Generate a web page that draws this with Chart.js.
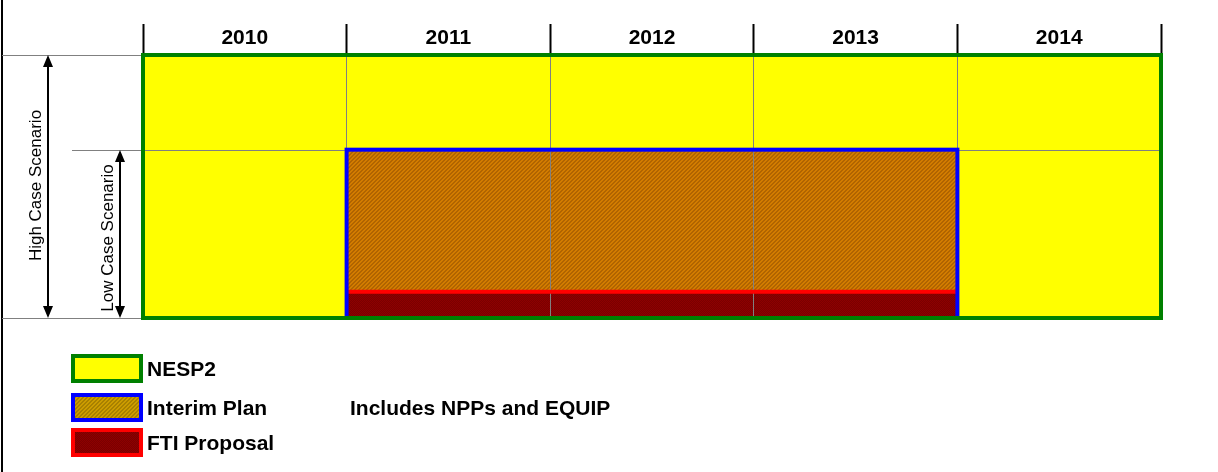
<!DOCTYPE html>
<html>
<head>
<meta charset="utf-8">
<script src="https://cdn.jsdelivr.net/npm/chart.js@4.4.0/dist/chart.umd.min.js"></script>
<style>
  body { margin: 0; background: #fff; }
  #caixa { width: 1218px; height: 472px; }
</style>
</head>
<body>
<div id="caixa"><canvas id="grafico"></canvas></div>
<script>
const anos = ['2010', '2011', '2012', '2013', '2014']
const nesp2 = [100, 100, 100, 100, 100]
const interimPlan = [null, 64, 64, 64, null]
const ftiProposal = [null, 10, 10, 10, null]
const highCase = 100
const lowCase = 64
const legendas = ['NESP2', 'Interim Plan', 'FTI Proposal']
const notaInterim = 'Includes NPPs and EQUIP'

const fonte = '"Liberation Sans", Arial, sans-serif'
const ctxGrafico = document.getElementById('grafico').getContext('2d')

// small 4x4 tiles for the hatched fills
function hachura(fundo, risco, xadrez) {
    const tile = document.createElement('canvas')
    tile.width = 4
    tile.height = 4
    const g = tile.getContext('2d')
    g.fillStyle = fundo
    g.fillRect(0, 0, 4, 4)
    g.fillStyle = risco
    for (let i = 0; i < 4; i++) {
        if (xadrez) {
            if (i % 2 == 0) {
                g.fillRect(i, 0, 1, 1)
                g.fillRect(i, 2, 1, 1)
            } else {
                g.fillRect(i, 1, 1, 1)
                g.fillRect(i, 3, 1, 1)
            }
        } else {
            g.fillRect(i, (3 - i) % 4, 1, 1)
            g.fillRect(i, (4 - i) % 4, 1, 1)
        }
    }
    return ctxGrafico.createPattern(tile, 'repeat')
}

const corInterim = hachura('#d27c00', '#b06400', false)
const corFti = hachura('#7a0000', '#8e0000', true)
const corInterimLegenda = hachura('#cc9c00', '#a88000', false)
const corFtiLegenda = hachura('#7a0000', '#8e0000', true)

// outlines, arrows, side labels and the legend are drawn here
const extras = {
    id: 'extras',
    afterDraw(chart) {
        const ctx = chart.ctx
        const area = chart.chartArea
        const y = chart.scales.y
        const yAlto = Math.round(y.getPixelForValue(highCase))
        const yBaixo = Math.round(y.getPixelForValue(lowCase))
        const yBase = Math.round(y.getPixelForValue(0))

        ctx.save()

        // frame edge on the left
        ctx.fillStyle = '#000'
        ctx.fillRect(1, 0, 2, chart.height)

        // scenario levels
        ctx.strokeStyle = '#808080'
        ctx.lineWidth = 1
        ctx.beginPath()
        ctx.moveTo(2, yAlto + 0.5)
        ctx.lineTo(area.left, yAlto + 0.5)
        ctx.moveTo(72, yBaixo + 0.5)
        ctx.lineTo(area.right, yBaixo + 0.5)
        ctx.moveTo(2, yBase + 0.5)
        ctx.lineTo(area.left, yBase + 0.5)
        ctx.stroke()

        // outlines round each block
        function limites(indice) {
            const valores = chart.data.datasets[indice].data
            const barras = chart.getDatasetMeta(indice).data.filter((b, i) => valores[i] != null)
            const primeira = barras[0]
            const ultima = barras[barras.length - 1]
            return {
                esq: primeira.x - primeira.width / 2,
                dir: ultima.x + ultima.width / 2,
                topo: primeira.y,
                base: primeira.base
            }
        }
        const bInterim = limites(1)
        const bFti = limites(0)
        const bNesp = limites(2)

        ctx.lineWidth = 4
        ctx.strokeStyle = '#ff0000'
        ctx.beginPath()
        ctx.moveTo(bFti.esq, bFti.topo)
        ctx.lineTo(bFti.dir, bFti.topo)
        ctx.stroke()

        ctx.strokeStyle = '#0000ff'
        ctx.strokeRect(bInterim.esq, bInterim.topo, bInterim.dir - bInterim.esq, bInterim.base - bInterim.topo)

        ctx.strokeStyle = '#008000'
        ctx.strokeRect(bNesp.esq, bNesp.topo, bNesp.dir - bNesp.esq, bNesp.base - bNesp.topo)

        // double-headed arrows
        function seta(x, y1, y2) {
            ctx.strokeStyle = '#000'
            ctx.fillStyle = '#000'
            ctx.lineWidth = 2
            ctx.beginPath()
            ctx.moveTo(x, y1 + 10)
            ctx.lineTo(x, y2 - 10)
            ctx.stroke()
            ctx.beginPath()
            ctx.moveTo(x, y1)
            ctx.lineTo(x - 5, y1 + 12)
            ctx.lineTo(x + 5, y1 + 12)
            ctx.closePath()
            ctx.moveTo(x, y2)
            ctx.lineTo(x - 5, y2 - 12)
            ctx.lineTo(x + 5, y2 - 12)
            ctx.closePath()
            ctx.fill()
        }
        seta(48, yAlto, yBase)
        seta(120, yBaixo, yBase)

        function textoVertical(texto, x, yMeio) {
            ctx.save()
            ctx.translate(x, yMeio)
            ctx.rotate(-Math.PI / 2)
            ctx.fillStyle = '#000'
            ctx.font = '17px ' + fonte
            ctx.textAlign = 'center'
            ctx.textBaseline = 'middle'
            ctx.fillText(texto, 0, 0)
            ctx.restore()
        }
        textoVertical('High Case Scenario', 36, (yAlto + yBase) / 2 - 1)
        textoVertical('Low Case Scenario', 108, (yBaixo + yBase) / 2 + 4)

        // legend
        const itens = [
            { texto: legendas[0], fundo: '#ffff00', borda: '#008000', topo: 354 },
            { texto: legendas[1], fundo: corInterimLegenda, borda: '#0000ff', topo: 393 },
            { texto: legendas[2], fundo: corFtiLegenda, borda: '#ff0000', topo: 428 }
        ]
        ctx.font = 'bold 21px ' + fonte
        ctx.textBaseline = 'middle'
        ctx.textAlign = 'left'
        for (let i = 0; i < itens.length; i++) {
            const item = itens[i]
            ctx.fillStyle = item.fundo
            ctx.fillRect(71, item.topo, 72, 29)
            ctx.strokeStyle = item.borda
            ctx.lineWidth = 4
            ctx.strokeRect(73, item.topo + 2, 68, 25)
            ctx.fillStyle = '#000'
            ctx.fillText(item.texto, 147, item.topo + 16)
        }
        ctx.fillText(notaInterim, 350, itens[1].topo + 16)

        ctx.restore()
    }
}

const grafico = new Chart(ctxGrafico, {
    type: 'bar',
    data: {
        labels: anos,
        datasets: [
            { label: legendas[2], data: ftiProposal, backgroundColor: corFti, order: 1 },
            { label: legendas[1], data: interimPlan, backgroundColor: corInterim, order: 2 },
            { label: legendas[0], data: nesp2, backgroundColor: '#ffff00', order: 3 }
        ]
    },
    options: {
        responsive: true,
        maintainAspectRatio: false,
        animation: false,
        datasets: {
            bar: {
                grouped: false,
                barPercentage: 1,
                categoryPercentage: 1,
                borderWidth: 0
            }
        },
        layout: {
            padding: { left: 143, right: 57, top: 0, bottom: 154 }
        },
        plugins: {
            legend: { display: false },
            tooltip: { enabled: false }
        },
        scales: {
            x: {
                position: 'top',
                afterFit(escala) {
                    escala.height = 55
                },
                grid: {
                    offset: true,
                    color: '#808080',
                    lineWidth: 1,
                    tickColor: '#000',
                    tickLength: 31,
                    tickWidth: 2,
                    z: 1
                },
                border: { display: false },
                ticks: {
                    color: '#000',
                    padding: -27,
                    font: { family: fonte, size: 21, weight: 'bold' }
                }
            },
            y: {
                display: false,
                min: 0,
                max: 100
            }
        }
    },
    plugins: [extras]
})
</script>
</body>
</html>
